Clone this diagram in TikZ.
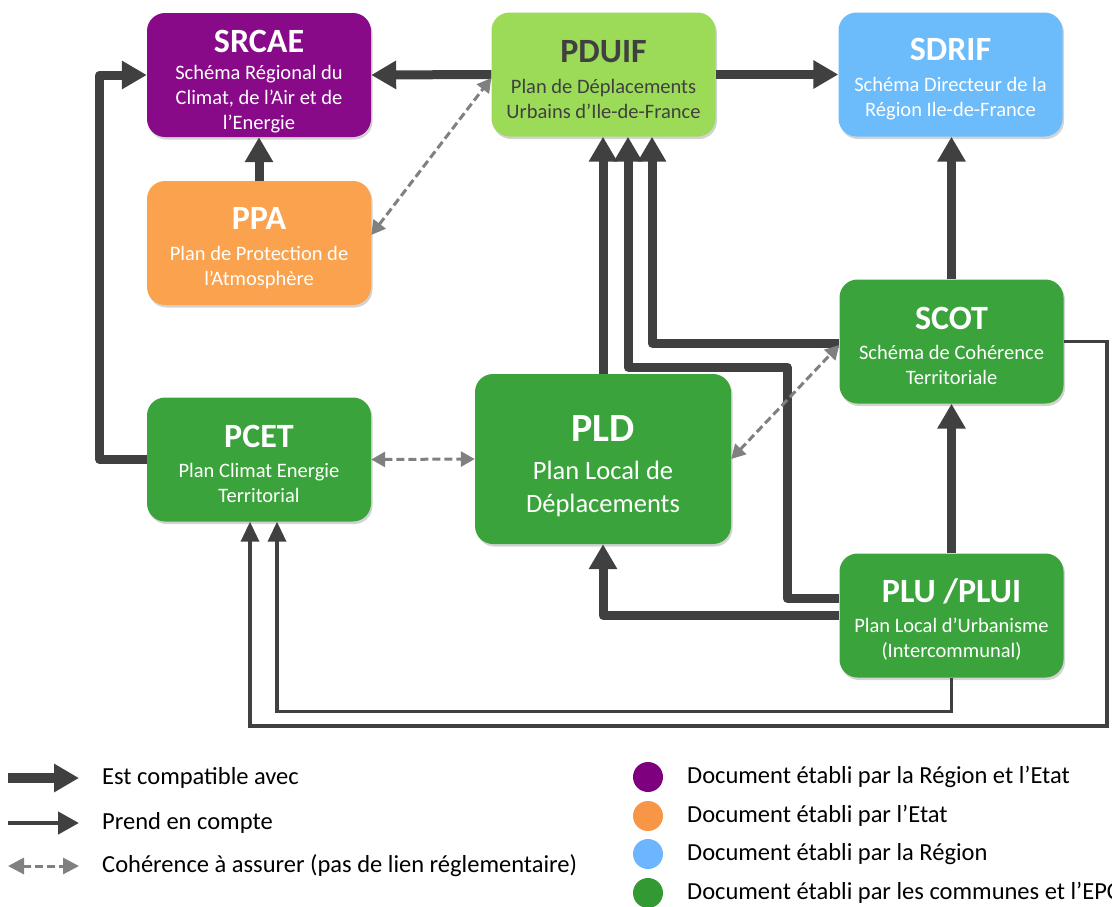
\documentclass[tikz,border=0pt]{standalone}
\usepackage{fontspec}
\setmainfont{Carlito}
\usetikzlibrary{arrows.meta,shadows,calc}
\definecolor{cpurple}{HTML}{880A88}
\definecolor{corange}{HTML}{FAA24E}
\definecolor{clgreen}{HTML}{9BDB58}
\definecolor{cblue}{HTML}{6CBBFA}
\definecolor{cgreen}{HTML}{3BA33C}
\definecolor{arrowc}{HTML}{404040}
\definecolor{dashc}{HTML}{808080}
\definecolor{ltpurple}{HTML}{7F007F}
\definecolor{ltorange}{HTML}{F79646}
\definecolor{ltblue}{HTML}{6DB6FF}
\definecolor{ltgreen}{HTML}{339933}
\definecolor{pduiftext}{HTML}{404040}
\newcommand{\titlef}{\bfseries\fontsize{34}{38}\selectfont}
\newcommand{\subf}{\fontsize{20.5}{25}\selectfont}
\newcommand{\pldtitlef}{\bfseries\fontsize{40}{44}\selectfont}
\newcommand{\pldsubf}{\fontsize{26.5}{33}\selectfont}
\newcommand{\legf}{\fontsize{24.5}{28}\selectfont}
\newcommand{\tstrut}[1]{\rule{0pt}{#1}}
\begin{document}
\begin{tikzpicture}[x=1pt,y=-1pt,
  box/.style={rectangle, rounded corners=18pt, inner sep=0pt, align=center,
    text=white, font=\subf,
    drop shadow={opacity=0.35, shadow xshift=1.5pt, shadow yshift=-2.5pt}},
  std/.style={box, minimum width=224pt, minimum height=124pt},
  big/.style={draw=arrowc, line width=9pt, line join=round,
    -{Triangle[width=27pt,length=25pt]}},
  thin/.style={draw=arrowc, line width=3.5pt,
    -{Triangle[width=18pt,length=20pt]}},
  coh/.style={draw=dashc, line width=3pt, dash pattern=on 8pt off 4pt,
    {Triangle[width=15pt,length=14pt]}-{Triangle[width=15pt,length=14pt]}},
  legtext/.style={anchor=west, inner sep=0pt, font=\legf, text=black},
  dot/.style={circle, inner sep=0pt, minimum size=30pt}
]
\useasboundingbox (0,0) rectangle (1112,906);

% boxes
\node[std, fill=cpurple] (srcae) at (259,75)
  {{\titlef\tstrut{36pt}SRCAE}\\[2pt]Schéma Régional du\\Climat, de l’Air et de\\l’Energie};
\node[std, fill=corange] (ppa) at (259,243)
  {{\titlef\tstrut{32pt}PPA}\\[6pt]Plan de Protection de\\l’Atmosphère};
\node[std, fill=clgreen, text=pduiftext] (pduif) at (603.5,74.5)
  {{\titlef\tstrut{32pt}PDUIF}\\[6pt]Plan de Déplacements\\Urbains d’Ile-de-France};
\node[std, fill=cblue] (sdrif) at (950.5,74.5)
  {{\titlef\tstrut{32pt}SDRIF}\\[6pt]Schéma Directeur de la\\Région Ile-de-France};
\node[std, fill=cgreen] (pcet) at (259,459.5)
  {{\titlef\tstrut{32pt}PCET}\\[5pt]Plan Climat Energie\\Territorial};
\node[box, fill=cgreen, minimum width=256pt, minimum height=170pt, font=\pldsubf] (pld) at (603,459)
  {{\pldtitlef\tstrut{40pt}PLD}\\[5pt]Plan Local de\\Déplacements};
\node[std, fill=cgreen] (scot) at (951.5,341.5)
  {{\titlef\tstrut{32pt}SCOT}\\[5pt]Schéma de Cohérence\\Territoriale};
\node[std, fill=cgreen] (plu) at (951.5,615.5)
  {{\titlef\tstrut{32pt}PLU /PLUI}\\[5pt]Plan Local d’Urbanisme\\(Intercommunal)};

% thick arrows: "est compatible avec"
\draw[big] (pduif.west) -- (srcae.east);
\draw[big] (pduif.east) -- (sdrif.west);
\draw[big] (ppa.north) -- (srcae.south);
\draw[big] (pcet.west) -- ++(-47,0) |- (srcae.west);
\draw[big] (scot.north) -- (scot.north |- sdrif.south);
\draw[big] (plu.north) -- (scot.south);
\draw[big] (pld.north) -- (pld.north |- pduif.south);
\draw[big] ([yshift=17.5pt]plu.west) -| (787,367) -| ([xshift=24.5pt]pduif.south);
\draw[big] ([yshift=-1.5pt]scot.west) -| ([xshift=48.5pt]pduif.south);
\draw[big] (plu.west) -| (pld.south);

% thin arrows: "prend en compte"
\draw[thin] (scot.east) -| (1107,726) -| ([xshift=-9pt]pcet.south);
\draw[thin] (plu.south) -- ++(0,34) -| ([xshift=18pt]pcet.south);

% dashed: coherence
\draw[coh] (pcet.east) -- (pld.west);
\draw[coh] ([yshift=8pt]ppa.east) -- ([yshift=-3.5pt]pduif.west);
\draw[coh] (pld.east) -- ([yshift=-3.5pt]scot.west);

% legend left
\coordinate (la1) at (8,778);  \coordinate (lb1) at (79,778);
\coordinate (la2) at (8,823);  \coordinate (lb2) at (79,823);
\coordinate (la3) at (8,866);  \coordinate (lb3) at (79,866);
\draw[big, line width=10pt] (la1) -- (lb1);
\draw[thin, line width=4.5pt, -{Triangle[width=22pt,length=21pt]}] (la2) -- (lb2);
\draw[coh, {Triangle[width=16pt,length=16pt]}-{Triangle[width=16pt,length=16pt]}] (la3) -- (lb3);
\node[legtext] (lt1) at (102,778) {Est compatible avec};
\node[legtext] (lt2) at (102,823) {Prend en compte};
\node[legtext] (lt3) at (102,866) {Cohérence à assurer (pas de lien réglementaire)};

% legend right
\node[dot, fill=ltpurple] (d1) at (648,777) {};
\node[dot, fill=ltorange] (d2) at (648,816) {};
\node[dot, fill=ltblue] (d3) at (648,854) {};
\node[dot, fill=ltgreen] (d4) at (648,893) {};
\node[legtext] (rt1) at (687,777) {Document établi par la Région et l’Etat};
\node[legtext] (rt2) at (687,816) {Document établi par l’Etat};
\node[legtext] (rt3) at (687,854) {Document établi par la Région};
\node[legtext] (rt4) at (687,893) {Document établi par les communes et l’EPCI};
\end{tikzpicture}
\end{document}
